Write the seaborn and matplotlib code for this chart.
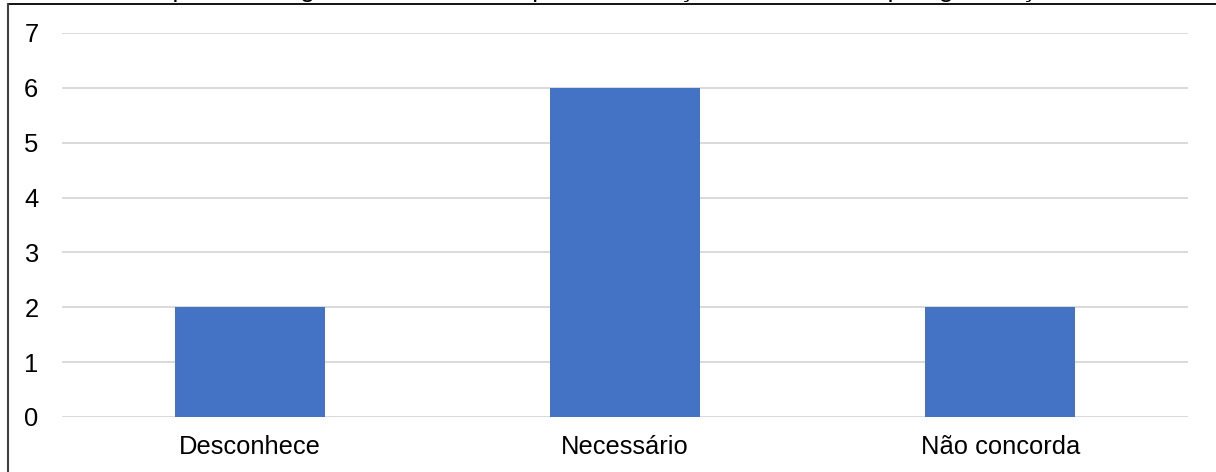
import matplotlib
matplotlib.use("Agg")
import matplotlib.pyplot as plt
from matplotlib.lines import Line2D
import seaborn as sns
import pandas as pd

# Survey answers and counts
categories = ["Desconhece", "Necessário", "Não concorda"]
counts = [2, 6, 2]
title_text = "Opinião dos gestores acerca da possível criação de cursos de pós-graduação"

BAR_COLOR = "#4472C4"
GRID_COLOR = "#D9D9D9"

sns.set_theme(style="white")
plt.rcParams["font.family"] = ["Liberation Sans", "DejaVu Sans"]

W, H, DPI = 1216, 472, 100
fig = plt.figure(figsize=(W / DPI, H / DPI), dpi=DPI)
ax = fig.add_axes([62 / W, (H - 417) / H, (1188 - 62) / W, (417 - 33) / H])

df = pd.DataFrame({"categoria": categories, "respostas": counts})
sns.barplot(data=df, x="categoria", y="respostas", color=BAR_COLOR,
            saturation=1, width=0.4, linewidth=0, ax=ax, zorder=3)

ax.set_xlim(-0.5, len(categories) - 0.5)
ax.set_ylim(0, 7)
ax.set_yticks(range(0, 8))
ax.yaxis.grid(True, color=GRID_COLOR, linewidth=1.4, zorder=0)
ax.set_axisbelow(True)
ax.set_xlabel("")
ax.set_ylabel("")
for side in ax.spines.values():
    side.set_visible(False)
ax.tick_params(axis="y", length=0, pad=17, labelsize=18.4, labelcolor="#000000")
ax.tick_params(axis="x", length=0, pad=13, labelsize=18.4, labelcolor="#000000")

# Chart title sits mostly above the canvas edge
fig.text(0.5, 1 + 3.2 / H, title_text, ha="center", va="baseline",
         fontsize=19, color="#000000")

# Outer frame: top and left edges
fig.add_artist(Line2D([8 / W, 1.0], [1 - 4.3 / H, 1 - 4.3 / H],
                      transform=fig.transFigure, color="#000000", linewidth=1.3))
fig.add_artist(Line2D([8 / W, 8 / W], [1 - 4.3 / H, 0],
                      transform=fig.transFigure, color="#404040", linewidth=1.5))

fig.savefig("out.png", dpi=DPI, facecolor="white")
